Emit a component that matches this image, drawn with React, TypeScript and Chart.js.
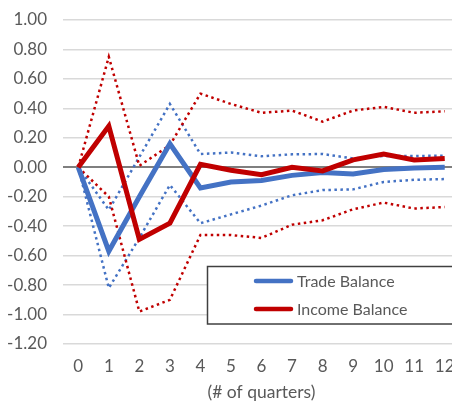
import React, { useEffect, useRef } from "react";
import { Chart, registerables } from "chart.js";

Chart.register(...registerables);

// Quarters after the shock
const quarters = ["0", "1", "2", "3", "4", "5", "6", "7", "8", "9", "10", "11", "12"];

// Impulse responses and their confidence bands
const tradeBalance = [0, -0.57, -0.2, 0.16, -0.14, -0.1, -0.09, -0.055, -0.035, -0.045, -0.015, -0.005, 0.0];
const tradeUpper = [0, -0.29, 0.07, 0.43, 0.09, 0.1, 0.075, 0.088, 0.09, 0.06, 0.077, 0.077, 0.078];
const tradeLower = [0, -0.82, -0.48, -0.12, -0.38, -0.32, -0.26, -0.19, -0.155, -0.15, -0.1, -0.085, -0.08];

const incomeBalance = [0, 0.28, -0.49, -0.38, 0.02, -0.02, -0.05, 0.0, -0.025, 0.05, 0.09, 0.05, 0.06];
const incomeUpper = [0, 0.75, 0.01, 0.15, 0.5, 0.43, 0.37, 0.385, 0.31, 0.385, 0.41, 0.37, 0.38];
const incomeLower = [0, -0.2, -0.98, -0.9, -0.46, -0.46, -0.48, -0.39, -0.36, -0.285, -0.24, -0.28, -0.27];

const yMin = -1.2;
const yMax = 1.0;
const yStep = 0.2;

const BLUE = "#4472C4";
const RED = "#C00000";
const TEXT = "#595959";
const FONT = "Lato, 'Liberation Sans', sans-serif";

// Boxed legend placed inside the lower right of the plot
const boxLegend = {
  id: "boxLegend",
  afterDraw(chart: any) {
    const { ctx } = chart;
    const items = chart.data.datasets.filter((d: any) => d.inLegend);
    items.sort((a: any, b: any) => a.legendIndex - b.legendIndex);
    ctx.save();
    ctx.fillStyle = "#ffffff";
    ctx.fillRect(207, 266, 280, 58);
    ctx.strokeStyle = "#404040";
    ctx.lineWidth = 1.5;
    ctx.strokeRect(207.5, 266.5, 280, 57.5);
    ctx.font = "16px " + FONT;
    ctx.textBaseline = "middle";
    ctx.textAlign = "left";
    items.forEach((d: any, i: number) => {
      const y = 281 + i * 28;
      ctx.strokeStyle = d.borderColor;
      ctx.lineWidth = 4.5;
      ctx.lineCap = "round";
      ctx.beginPath();
      ctx.moveTo(256, y);
      ctx.lineTo(291, y);
      ctx.stroke();
      ctx.fillStyle = TEXT;
      ctx.fillText(d.label, 297, y + 1);
    });
    ctx.restore();
  },
};

export default function App() {
  const canvasRef = useRef<HTMLCanvasElement | null>(null);

  useEffect(() => {
    const canvas = canvasRef.current;
    if (!canvas) return;

    const solid = (label: string, data: number[], color: string, order: number, legendIndex: number) => ({
      label,
      data,
      borderColor: color,
      backgroundColor: color,
      borderWidth: 5,
      pointRadius: 0,
      tension: 0,
      fill: false,
      borderJoinStyle: "miter" as const,
      order,
      inLegend: true,
      legendIndex,
    });

    const dotted = (label: string, data: number[], color: string, order: number) => ({
      label,
      data,
      borderColor: color,
      backgroundColor: color,
      borderWidth: 2.5,
      borderDash: [2.5, 3.5],
      pointRadius: 0,
      tension: 0,
      fill: false,
      order,
      inLegend: false,
    });

    const chart = new Chart(canvas, {
      type: "line",
      data: {
        labels: quarters,
        datasets: [
          solid("Income Balance", incomeBalance, RED, 0, 1),
          solid("Trade Balance", tradeBalance, BLUE, 1, 0),
          dotted("Income Balance upper", incomeUpper, RED, 2),
          dotted("Income Balance lower", incomeLower, RED, 3),
          dotted("Trade Balance upper", tradeUpper, BLUE, 4),
          dotted("Trade Balance lower", tradeLower, BLUE, 5),
        ] as any,
      },
      options: {
        responsive: false,
        animation: false,
        layout: { padding: { top: 20, left: 0, right: 2, bottom: 0 } },
        plugins: {
          legend: { display: false },
          tooltip: { enabled: false },
        },
        scales: {
          x: {
            offset: true,
            grid: { display: false, drawTicks: false },
            border: { display: false },
            ticks: {
              color: TEXT,
              font: { family: FONT, size: 17 },
              padding: 12,
              maxRotation: 0,
              autoSkip: false,
            },
            title: {
              display: true,
              text: "(# of quarters)",
              color: TEXT,
              font: { family: FONT, size: 17.5 },
              padding: { top: 4, bottom: 0 },
            },
            afterFit: (scale: any) => {
              scale.height = 59;
              scale.paddingLeft = 0;
              scale.paddingRight = 0;
            },
          },
          y: {
            min: yMin,
            max: yMax,
            grid: {
              drawTicks: false,
              color: (c: any) => (Math.abs(c.tick.value) < 1e-9 ? "#7f7f7f" : "#d9d9d9"),
              lineWidth: (c: any) => (Math.abs(c.tick.value) < 1e-9 ? 2 : 1.5),
            },
            border: { display: false },
            ticks: {
              stepSize: yStep,
              color: TEXT,
              font: { family: FONT, size: 17 },
              padding: 16,
              callback: (v: any) => Number(v).toFixed(2),
            },
            afterFit: (scale: any) => {
              scale.width = 63;
              scale.paddingTop = 0;
              scale.paddingBottom = 0;
            },
          },
        },
      },
      plugins: [boxLegend],
    });

    return () => chart.destroy();
  }, []);

  return (
    <div
      style={{
        position: "fixed",
        left: 0,
        top: 0,
        width: 452,
        height: 403,
        overflow: "hidden",
        background: "#ffffff",
      }}
    >
      <canvas ref={canvasRef} width={462} height={403} style={{ width: 462, height: 403, display: "block" }} />
    </div>
  );
}
